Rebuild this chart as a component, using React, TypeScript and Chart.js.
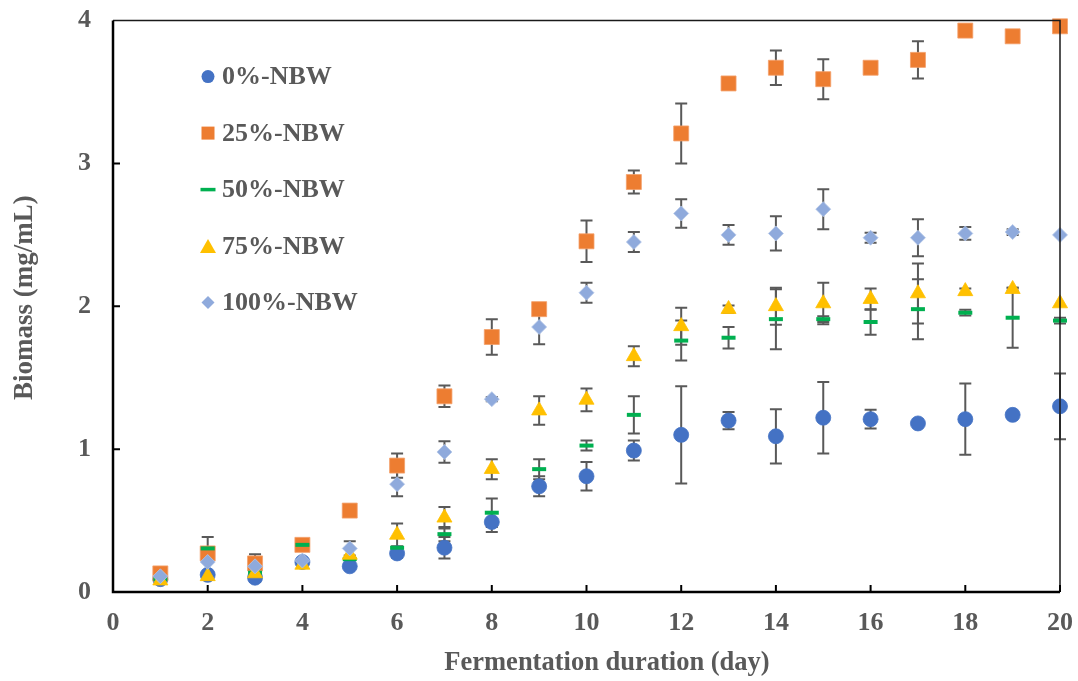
import React, { useEffect, useRef } from 'react';
import { Chart, registerables } from 'chart.js';

Chart.register(...registerables);

const FONT = "'Liberation Serif', 'Times New Roman', serif";
const TEXT = '#595959';

// ---- data ----
const days = [1, 2, 3, 4, 5, 6, 7, 8, 9, 10, 11, 12, 13, 14, 15, 16, 17, 18, 19, 20];
const seriesNames = ['0%-NBW', '25%-NBW', '50%-NBW', '75%-NBW', '100%-NBW'];
const xTitle = 'Fermentation duration (day)';
const yTitle = 'Biomass (mg/mL)';

const nbw0 = [0.09, 0.12, 0.10, 0.21, 0.18, 0.27, 0.31, 0.49, 0.74, 0.81, 0.99, 1.10, 1.20, 1.09, 1.22, 1.21, 1.18, 1.21, 1.24, 1.30];
const nbw0Err = [0, 0, 0.03, 0, 0, 0.03, 0.075, 0.07, 0.07, 0.10, 0.07, 0.34, 0.06, 0.19, 0.25, 0.065, 0, 0.25, 0, 0.23];

const nbw25 = [0.13, 0.27, 0.20, 0.33, 0.57, 0.885, 1.37, 1.785, 1.98, 2.455, 2.87, 3.21, 3.56, 3.67, 3.59, 3.67, 3.725, 3.93, 3.89, 3.96];
const nbw25Err = [0, 0, 0, 0, 0, 0.085, 0.075, 0.125, 0, 0.145, 0.08, 0.21, 0, 0.12, 0.14, 0, 0.13, 0, 0, 0];

const nbw50 = [0.09, 0.305, 0.135, 0.33, 0.23, 0.31, 0.405, 0.555, 0.86, 1.025, 1.24, 1.76, 1.78, 1.91, 1.91, 1.89, 1.98, 1.955, 1.92, 1.90];
const nbw50Err = [0, 0.08, 0, 0, 0, 0, 0.05, 0.10, 0.07, 0.035, 0.13, 0.14, 0.075, 0.21, 0.02, 0.09, 0.21, 0.02, 0.21, 0.02];

const nbw75 = [0.08, 0.11, 0.13, 0.19, 0.26, 0.40, 0.52, 0.86, 1.27, 1.345, 1.65, 1.86, 1.98, 2.00, 2.02, 2.05, 2.09, 2.105, 2.12, 2.02];
const nbw75Err = [0, 0, 0, 0, 0, 0.08, 0.075, 0.07, 0.10, 0.08, 0.07, 0.13, 0.025, 0.13, 0.145, 0.075, 0.21, 0.02, 0.01, 0];

const nbw100 = [0.11, 0.21, 0.18, 0.22, 0.305, 0.755, 0.98, 1.35, 1.855, 2.095, 2.45, 2.65, 2.50, 2.51, 2.68, 2.48, 2.48, 2.51, 2.52, 2.50];
const nbw100Err = [0, 0, 0.085, 0, 0.05, 0.085, 0.075, 0.015, 0.12, 0.07, 0.07, 0.10, 0.07, 0.12, 0.14, 0.035, 0.13, 0.045, 0.02, 0];

const xTickStep = 2;
const yTickStep = 1;

// ---- styles ----
const seriesValues = [nbw0, nbw25, nbw50, nbw75, nbw100];
const seriesErrors = [nbw0Err, nbw25Err, nbw50Err, nbw75Err, nbw100Err];
const seriesColors = ['#4472C4', '#ED7D31', '#00B050', '#FFC000', '#8FAADC'];
const seriesBorders = ['#4472C4', '#F4A06A', '#00B050', '#FFC000', '#B4C7E7'];
const seriesStyles = ['circle', 'rect', 'line', 'triangle', 'rectRot'];
const seriesRadius = [7.5, 10.6, 7, 8.7, 7.5];
const seriesBorderW = [0.8, 0.8, 4, 0.8, 0.8];

// canvas is slightly larger than the page and shifted up so the plot area lands where the reference has it
const CANVAS_W = 1089;
const CANVAS_H = 698;
const SHIFT_Y = -17;

function drawLegendMarker(ctx: CanvasRenderingContext2D, i: number, x: number, y: number) {
  const c = seriesColors[i];
  ctx.save();
  ctx.fillStyle = c;
  ctx.strokeStyle = c;
  ctx.beginPath();
  switch (seriesStyles[i]) {
    case 'circle':
      ctx.arc(x, y, 6.5, 0, Math.PI * 2);
      ctx.fill();
      break;
    case 'rect':
      ctx.rect(x - 6.5, y - 6.5, 13, 13);
      ctx.fill();
      break;
    case 'line':
      ctx.lineWidth = 3.5;
      ctx.moveTo(x - 7.5, y);
      ctx.lineTo(x + 7.5, y);
      ctx.stroke();
      break;
    case 'triangle':
      ctx.moveTo(x, y - 7);
      ctx.lineTo(x + 8, y + 7);
      ctx.lineTo(x - 8, y + 7);
      ctx.closePath();
      ctx.fill();
      break;
    case 'rectRot':
      ctx.moveTo(x, y - 6.5);
      ctx.lineTo(x + 6.5, y);
      ctx.lineTo(x, y + 6.5);
      ctx.lineTo(x - 6.5, y);
      ctx.closePath();
      ctx.fill();
      break;
  }
  ctx.restore();
}

const errorBarPlugin = {
  id: 'errorBars',
  beforeDatasetsDraw(chart: any) {
    const { ctx, scales } = chart;
    ctx.save();
    ctx.strokeStyle = '#595959';
    ctx.lineWidth = 2;
    seriesValues.forEach((vals, i) => {
      vals.forEach((v, j) => {
        const e = seriesErrors[i][j];
        if (!e) return;
        const px = scales.x.getPixelForValue(days[j]);
        const yt = scales.y.getPixelForValue(v + e);
        const yb = scales.y.getPixelForValue(v - e);
        ctx.beginPath();
        ctx.moveTo(px, yt);
        ctx.lineTo(px, yb);
        ctx.moveTo(px - 6, yt);
        ctx.lineTo(px + 6, yt);
        ctx.moveTo(px - 6, yb);
        ctx.lineTo(px + 6, yb);
        ctx.stroke();
      });
    });
    ctx.restore();
  },
};

const framePlugin = {
  id: 'frame',
  afterDatasetsDraw(chart: any) {
    const { ctx, chartArea: a, scales } = chart;
    ctx.save();
    ctx.strokeStyle = '#1a1a1a';
    ctx.lineWidth = 1.5;
    ctx.beginPath();
    ctx.moveTo(a.left, a.top);
    ctx.lineTo(a.right, a.top);
    ctx.lineTo(a.right, a.bottom);
    ctx.stroke();
    ctx.strokeStyle = '#000';
    ctx.lineWidth = 2.5;
    ctx.beginPath();
    ctx.moveTo(a.left, a.top);
    ctx.lineTo(a.left, a.bottom);
    ctx.lineTo(a.right, a.bottom);
    ctx.stroke();
    ctx.lineWidth = 2;
    ctx.beginPath();
    scales.x.ticks.forEach((t: any) => {
      if (t.value <= scales.x.min) return;
      const px = scales.x.getPixelForValue(t.value);
      ctx.moveTo(px, a.bottom);
      ctx.lineTo(px, a.bottom - 7);
    });
    scales.y.ticks.forEach((t: any) => {
      if (t.value <= scales.y.min || t.value >= scales.y.max) return;
      const py = scales.y.getPixelForValue(t.value);
      ctx.moveTo(a.left, py);
      ctx.lineTo(a.left + 7, py);
    });
    ctx.stroke();
    ctx.restore();
  },
};

const titlesPlugin = {
  id: 'axisTitles',
  afterDraw(chart: any) {
    const { ctx, chartArea: a } = chart;
    ctx.save();
    ctx.fillStyle = TEXT;
    ctx.textAlign = 'center';
    ctx.textBaseline = 'middle';
    ctx.font = `bold 26.5px ${FONT}`;
    ctx.fillText(xTitle, a.left + 494, a.bottom + 71);
    ctx.translate(25, a.top + 277);
    ctx.rotate(-Math.PI / 2);
    ctx.font = `bold 27px ${FONT}`;
    ctx.fillText(yTitle, 0, 0);
    ctx.restore();
  },
};

const legendPlugin = {
  id: 'innerLegend',
  afterDraw(chart: any) {
    const { ctx, chartArea: a } = chart;
    const x0 = a.left + 95;
    const y0 = a.top + 56;
    const gap = 56.5;
    ctx.save();
    ctx.font = `bold 26px ${FONT}`;
    ctx.fillStyle = TEXT;
    ctx.textBaseline = 'middle';
    ctx.textAlign = 'left';
    seriesNames.forEach((name, i) => {
      const y = y0 + i * gap;
      drawLegendMarker(ctx, i, x0, y);
      ctx.fillStyle = TEXT;
      ctx.fillText(name, x0 + 14, y + 1);
    });
    ctx.restore();
  },
};

export default function App() {
  const ref = useRef<HTMLCanvasElement | null>(null);

  useEffect(() => {
    if (!ref.current) return;
    const tickFont = { family: FONT, size: 26, weight: 'bold' as const, lineHeight: 1.2 };
    const chart = new Chart(ref.current, {
      type: 'scatter',
      data: {
        datasets: seriesNames.map((name, i) => ({
          label: name,
          data: days.map((d, j) => ({ x: d, y: seriesValues[i][j] })),
          pointStyle: seriesStyles[i] as any,
          pointRadius: seriesRadius[i],
          pointBackgroundColor: seriesColors[i],
          pointBorderColor: seriesBorders[i],
          pointBorderWidth: seriesBorderW[i],
          showLine: false,
          clip: false as any,
          order: seriesNames.length - 1 - i,
        })),
      },
      options: {
        responsive: false,
        animation: false,
        events: [],
        layout: { padding: { top: 3, right: 6, left: 0, bottom: 0 } },
        plugins: {
          legend: { display: false },
          tooltip: { enabled: false },
        },
        scales: {
          x: {
            type: 'linear',
            min: 0,
            max: 20,
            ticks: { stepSize: xTickStep, color: TEXT, font: tickFont, padding: 16 },
            grid: { display: false, drawTicks: false },
            border: { display: false },
            title: { display: false },
            afterFit: (s: any) => {
              s.height = 89;
            },
          },
          y: {
            type: 'linear',
            min: 0,
            max: 4,
            ticks: { stepSize: yTickStep, color: TEXT, font: tickFont, padding: 22 },
            grid: { display: false, drawTicks: false },
            border: { display: false },
            title: { display: false },
            afterFit: (s: any) => {
              s.width = 113;
            },
          },
        },
      },
      plugins: [errorBarPlugin, framePlugin, titlesPlugin, legendPlugin],
    });
    return () => chart.destroy();
  }, []);

  return (
    <div style={{ position: 'fixed', left: 0, top: 0, width: 1078, height: 681, background: '#fff', overflow: 'hidden' }}>
      <canvas
        ref={ref}
        width={CANVAS_W}
        height={CANVAS_H}
        style={{ display: 'block', position: 'absolute', left: 0, top: SHIFT_Y }}
      />
    </div>
  );
}
